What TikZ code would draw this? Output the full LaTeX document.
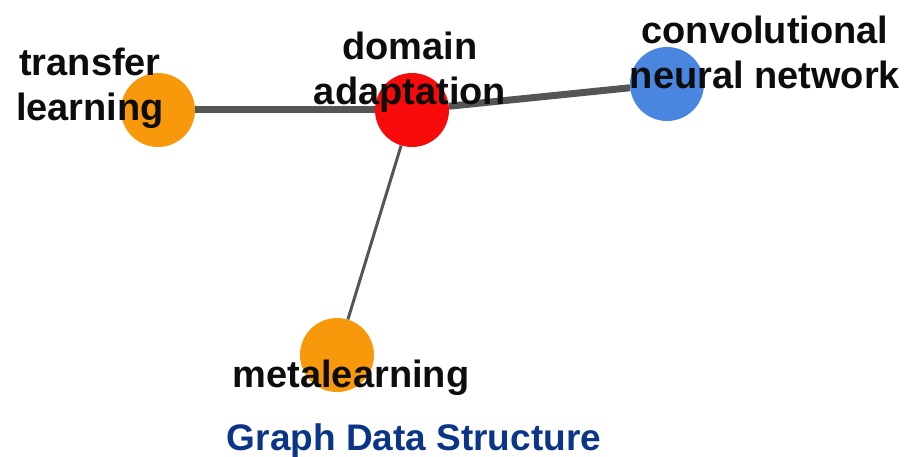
\documentclass[tikz,border=0pt]{standalone}
\usepackage{fontspec}
\setmainfont{Liberation Sans}
\definecolor{edgegray}{HTML}{555555}
\definecolor{orangenode}{HTML}{F7990A}
\definecolor{rednode}{HTML}{F70A0A}
\definecolor{bluenode}{HTML}{4A86E0}
\definecolor{titleblue}{HTML}{0B3589}
\begin{document}
\begin{tikzpicture}[x=1pt,y=-1pt,
  vertex/.style={circle,minimum size=74pt,inner sep=0pt},
  lab/.style={align=center,font=\fontsize{38}{45}\selectfont\bfseries,text=black!95,inner sep=0pt},
  heavy/.style={draw=edgegray,line width=7pt},
  light/.style={draw=edgegray,line width=3pt}]
\useasboundingbox (0,0) rectangle (908,457);
\node[vertex,fill=orangenode] (tl) at (158,110) {};
\node[vertex,fill=rednode] (da) at (412,110) {};
\node[vertex,fill=bluenode] (cnn) at (667,84) {};
\node[vertex,fill=orangenode] (ml) at (337,355) {};
\draw[heavy] (tl) -- (da);
\draw[heavy] (da) -- (cnn);
\draw[light] (da) -- (ml);
\node[lab] (ltl) at (90,88) {transfer\\learning};
\node[lab] (lda) at (410,72) {domain\\adaptation};
\node[lab] (lcnn) at (765,52) {convolutional\\neural network};
\node[lab] (lml) at (351,378) {metalearning};
\node[font=\fontsize{37}{40}\selectfont\bfseries,text=titleblue,inner sep=0pt] (title) at (414,441) {Graph Data Structure};
\end{tikzpicture}
\end{document}
